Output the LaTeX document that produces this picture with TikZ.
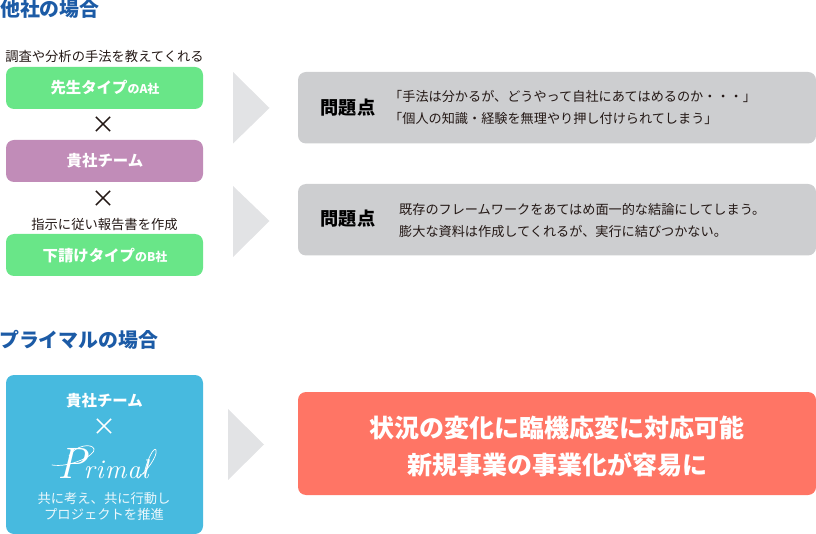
\documentclass[tikz,border=0pt]{standalone}
\usepackage{fontspec}
\setmainfont{Noto Sans CJK JP}
\newfontfamily\logofont{Latin Modern Roman}
\definecolor{titleblue}{HTML}{1C5BA6}
\definecolor{boxgreen}{HTML}{69E688}
\definecolor{boxpurple}{HTML}{C18CB8}
\definecolor{boxblue}{HTML}{47BADF}
\definecolor{boxgray}{HTML}{CDCED0}
\definecolor{arrowgray}{HTML}{E2E3E5}
\definecolor{boxred}{HTML}{FF7565}
\definecolor{ink}{HTML}{231815}
\newcommand{\fsz}[1]{\fontsize{#1pt}{#1pt}\selectfont}
\tikzset{
  x=1pt,y=-1pt,
  txt/.style={inner sep=0pt,outer sep=0pt,text=ink,font=\fsz{13.3}},
  title/.style={inner sep=0pt,anchor=west,text=titleblue,font=\fsz{19.9}\bfseries},
  box/.style={fill=#1,rounded corners=8pt,draw=none},
  boxlabel/.style={inner sep=0pt,text=white,font=\fsz{15.4}\bfseries},
  cross/.style={inner sep=0pt,text=ink,font=\fsz{24}},
  tri/.style={fill=arrowgray,draw=none},
  prob/.style={inner sep=0pt,anchor=center,text=black,font=\fsz{18.2}\bfseries},
  desc/.style={inner sep=0pt,anchor=west,text=ink,font=\fsz{13.15}},
  flourish/.style={draw=white,line width=0.7pt,line cap=round},
}
\begin{document}
\begin{tikzpicture}
\useasboundingbox (0,0) rectangle (816,534);
\node[title] (t1) at (0,9) {他社の場合};
\node[title] (t2) at (-1,339.5) {プライマルの場合};

\node[txt] (l1) at (104.5,56) {調査や分析の手法を教えてくれる};
\fill[box=boxgreen] (6,67) rectangle (203,109);
\node[boxlabel] (a) at (105,88) {先生タイプ{\fsz{12}のA社}};
\node[cross] (x1) at (103.5,125) {×};
\fill[box=boxpurple] (6,140) rectangle (203,182);
\node[boxlabel] (b) at (105,160.5) {貴社チーム};
\node[cross] (x2) at (103.5,199) {×};
\node[txt] (l2) at (104.5,224) {指示に従い報告書を作成};
\fill[box=boxgreen] (6,234) rectangle (203,276);
\node[boxlabel] (c) at (105,256) {下請けタイプ{\fsz{12}のB社}};

\fill[tri] (233,72) -- (269.5,108) -- (233,143.5) -- cycle;
\fill[tri] (233,186) -- (269.5,221) -- (233,257) -- cycle;
\fill[tri] (228,409) -- (264,444.5) -- (228,480) -- cycle;

\fill[box=boxgray] (298,72) rectangle (816,143.5);
\node[prob] (p1) at (348,107.5) {問題点};
\node[desc] (d1) at (389,97) {「手法は分かるが、どうやって自社にあてはめるのか・・・」};
\node[desc] (d2) at (389,119) {「個人の知識・経験を無理やり押し付けられてしまう」};
\fill[box=boxgray] (298,184) rectangle (816,255.5);
\node[prob] (p2) at (348,219) {問題点};
\node[desc] (d3) at (399,209) {既存のフレームワークをあてはめ面一的な結論にしてしまう。};
\node[desc] (d4) at (399,232) {膨大な資料は作成してくれるが、実行に結びつかない。};

\fill[box=boxblue] (6,375) rectangle (203,534);
\node[boxlabel] (e) at (104.5,401) {貴社チーム};
\node[cross,text=white] (x3) at (104.5,427) {×};
\node[inner sep=0pt,anchor=base,text=white,font=\logofont\itshape\fsz{27}] (logo) at (103,478) {{\fsz{44}P}\hspace{-3pt}r\hspace{1pt}i\hspace{1pt}m\hspace{1pt}a\hspace{1pt}l};
% handwritten strokes of the Primal signature
\draw[flourish] (52,465) .. controls (70,468) and (96,455) .. (94,449) .. controls (92,443) and (76,445) .. (69,456);
\draw[flourish] (138,478) .. controls (146,472) and (158,456) .. (156,450) .. controls (154,446) and (147,460) .. (144,474);

\node[inner sep=0pt,text=white!90!boxblue,font=\fsz{13.3}] (f1) at (104,498.5) {共に考え、共に行動し};
\node[inner sep=0pt,text=white!90!boxblue,font=\fsz{13.3}] (f2) at (104,514.5) {プロジェクトを推進};

\fill[box=boxred] (298,392) rectangle (816,495);
\node[inner sep=0pt,text=white,font=\fsz{25}\bfseries] (r1) at (557,428) {状況の変化に臨機応変に対応可能};
\node[inner sep=0pt,text=white,font=\fsz{25}\bfseries] (r2) at (557,465) {新規事業の事業化が容易に};
\end{tikzpicture}
\end{document}
